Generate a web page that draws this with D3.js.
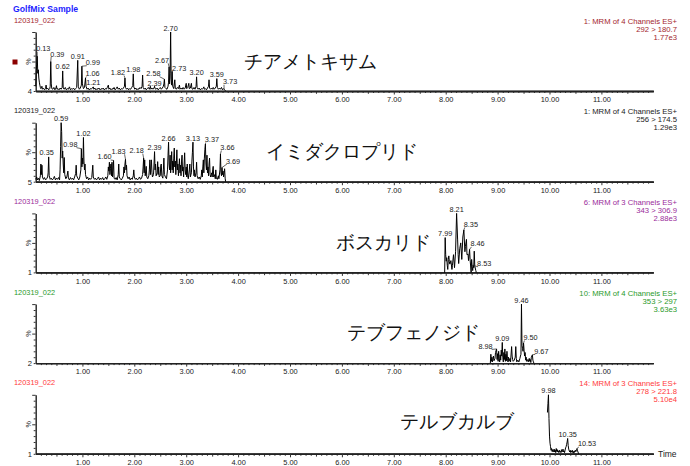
<!DOCTYPE html>
<html><head><meta charset="utf-8">
<script src="https://cdn.jsdelivr.net/npm/d3@7"></script>
<style>
body{margin:0;background:#fff}
svg{display:block}
text{font-family:"Liberation Sans",Arial,sans-serif}
</style>
</head><body>
<svg id="c" width="690" height="466"></svg>
<script>
// ---------------- DATA ----------------
const title = "GolfMix Sample";
const sampleId = "120319_022";
const timeTickLabels = ["1.00","2.00","3.00","4.00","5.00","6.00","7.00","8.00","9.00","10.00","11.00"];
const compounds = ["チアメトキサム","イミダクロプリド","ボスカリド","テブフェノジド","テルブカルブ"];
const channelInfo = [
  ["1: MRM of 4 Channels ES+","292 > 180.7","1.77e3"],
  ["1: MRM of 4 Channels ES+","256 > 174.5","1.29e3"],
  ["6: MRM of 3 Channels ES+","343 > 306.9","2.88e3"],
  ["10: MRM of 4 Channels ES+","353 > 297","3.63e3"],
  ["14: MRM of 3 Channels ES+","278 > 221.8","5.10e4"]
];
const baselineLabels = ["4","5","1","2","1"];

// [time (min), relative intensity (%)]
const series1 = [[0.10,8],[0.11,35],[0.12,45],[0.13,59],[0.14,30],[0.15,36],[0.16,22],[0.17,15],[0.18,10],[0.19,6],[0.20,4],[0.22,8],[0.23,3],[0.25,5],[0.27,2],[0.29,4],[0.30,10],[0.31,3],[0.33,5],[0.35,2],[0.37,4],[0.38,8],[0.39,50],[0.40,12],[0.41,4],[0.43,3],[0.45,6],[0.47,2],[0.49,5],[0.50,9],[0.51,3],[0.53,4],[0.55,2],[0.57,5],[0.59,3],[0.61,6],[0.62,34],[0.63,5],[0.65,3],[0.67,6],[0.69,2],[0.71,4],[0.73,3],[0.75,7],[0.77,2],[0.79,4],[0.81,3],[0.83,5],[0.85,2],[0.87,4],[0.89,6],[0.91,52],[0.92,8],[0.94,3],[0.96,5],[0.98,10],[0.99,42],[1.00,12],[1.02,4],[1.04,6],[1.06,22],[1.07,8],[1.09,3],[1.11,5],[1.13,2],[1.15,4],[1.17,3],[1.19,5],[1.21,7],[1.22,3],[1.24,5],[1.26,2],[1.28,4],[1.30,3],[1.32,5],[1.34,2],[1.36,4],[1.38,3],[1.40,5],[1.42,2],[1.44,4],[1.46,3],[1.48,6],[1.50,10],[1.51,3],[1.53,5],[1.55,2],[1.57,4],[1.59,3],[1.61,6],[1.63,2],[1.65,4],[1.67,7],[1.69,3],[1.71,5],[1.73,2],[1.75,4],[1.77,3],[1.79,5],[1.81,8],[1.82,22],[1.83,6],[1.85,3],[1.87,5],[1.89,2],[1.91,4],[1.93,3],[1.95,6],[1.97,9],[1.98,29],[1.99,7],[2.01,3],[2.03,5],[2.05,2],[2.07,4],[2.09,3],[2.11,6],[2.13,4],[2.15,8],[2.16,27],[2.17,6],[2.19,3],[2.21,5],[2.23,2],[2.25,4],[2.27,6],[2.29,3],[2.31,8],[2.32,3],[2.34,5],[2.36,3],[2.38,5],[2.39,8],[2.40,4],[2.42,3],[2.44,5],[2.46,2],[2.48,4],[2.50,6],[2.52,3],[2.54,5],[2.56,8],[2.57,12],[2.58,20],[2.59,6],[2.61,4],[2.63,3],[2.65,8],[2.66,15],[2.67,41],[2.68,12],[2.69,30],[2.70,100],[2.71,20],[2.72,10],[2.73,33],[2.74,8],[2.76,4],[2.78,19],[2.79,5],[2.81,3],[2.83,6],[2.85,4],[2.87,10],[2.88,3],[2.90,5],[2.92,3],[2.94,6],[2.96,3],[2.98,5],[3.00,13],[3.01,4],[3.03,6],[3.05,13],[3.06,4],[3.08,5],[3.10,13],[3.11,4],[3.13,3],[3.15,6],[3.17,3],[3.19,8],[3.20,24],[3.21,6],[3.23,3],[3.25,5],[3.27,2],[3.29,4],[3.31,3],[3.33,5],[3.34,7],[3.35,3],[3.37,4],[3.39,2],[3.41,5],[3.43,8],[3.44,19],[3.45,5],[3.47,3],[3.49,5],[3.51,3],[3.52,6],[3.54,3],[3.56,5],[3.58,8],[3.59,21],[3.60,6],[3.62,3],[3.64,5],[3.66,3],[3.68,6],[3.70,2],[3.72,4],[3.73,3],[3.75,1],[3.76,0]];
const peaks1 = [0.13,0.39,0.62,0.91,0.99,1.06,1.21,1.82,1.98,2.39,2.58,2.67,2.70,2.73,3.20,3.59,3.73];

const series2 = [[0.10,4],[0.12,8],[0.13,3],[0.15,6],[0.17,2],[0.19,10],[0.20,30],[0.21,12],[0.22,28],[0.23,8],[0.25,4],[0.27,7],[0.29,3],[0.31,5],[0.33,8],[0.34,15],[0.35,42],[0.36,10],[0.38,4],[0.40,6],[0.42,3],[0.44,5],[0.46,9],[0.48,3],[0.50,6],[0.52,4],[0.54,7],[0.56,3],[0.57,20],[0.58,60],[0.59,100],[0.60,85],[0.61,40],[0.62,52],[0.63,30],[0.64,15],[0.65,41],[0.66,12],[0.68,5],[0.70,8],[0.72,18],[0.73,6],[0.75,3],[0.77,7],[0.79,4],[0.81,6],[0.83,3],[0.85,8],[0.87,14],[0.88,28],[0.89,10],[0.91,6],[0.93,3],[0.95,8],[0.97,20],[0.98,56],[0.99,25],[1.00,40],[1.01,30],[1.02,75],[1.03,35],[1.04,20],[1.05,30],[1.06,12],[1.08,5],[1.10,8],[1.12,3],[1.14,6],[1.16,4],[1.18,7],[1.20,28],[1.21,8],[1.23,4],[1.25,6],[1.27,3],[1.29,5],[1.31,8],[1.33,3],[1.35,6],[1.37,4],[1.39,7],[1.41,3],[1.43,5],[1.45,8],[1.47,4],[1.49,10],[1.50,25],[1.51,18],[1.52,33],[1.53,12],[1.54,22],[1.55,30],[1.56,10],[1.57,33],[1.58,8],[1.59,20],[1.60,36],[1.61,6],[1.63,4],[1.65,7],[1.67,3],[1.69,12],[1.70,30],[1.71,8],[1.73,5],[1.75,3],[1.77,6],[1.79,10],[1.80,25],[1.81,15],[1.82,30],[1.83,38],[1.84,20],[1.85,28],[1.86,10],[1.88,5],[1.90,8],[1.92,3],[1.94,6],[1.96,4],[1.98,10],[1.99,20],[2.00,8],[2.02,4],[2.04,6],[2.06,3],[2.08,5],[2.10,8],[2.12,4],[2.14,6],[2.16,12],[2.17,25],[2.18,40],[2.19,15],[2.20,37],[2.21,10],[2.22,18],[2.23,26],[2.24,8],[2.26,5],[2.28,10],[2.29,20],[2.30,37],[2.31,12],[2.33,37],[2.34,15],[2.35,8],[2.37,12],[2.38,30],[2.39,51],[2.40,20],[2.41,30],[2.42,10],[2.44,15],[2.45,34],[2.46,12],[2.47,25],[2.48,8],[2.50,10],[2.51,28],[2.52,30],[2.53,10],[2.55,6],[2.56,20],[2.57,40],[2.58,12],[2.60,8],[2.62,5],[2.64,20],[2.65,45],[2.66,67],[2.67,30],[2.68,20],[2.69,45],[2.70,15],[2.71,30],[2.72,51],[2.73,20],[2.74,35],[2.75,15],[2.76,40],[2.77,57],[2.78,25],[2.79,35],[2.80,12],[2.81,30],[2.82,54],[2.83,20],[2.84,30],[2.85,10],[2.86,25],[2.87,39],[2.88,15],[2.89,28],[2.90,10],[2.91,35],[2.92,45],[2.93,18],[2.94,25],[2.95,8],[2.96,30],[2.97,49],[2.98,20],[2.99,12],[3.00,25],[3.01,8],[3.02,30],[3.03,10],[3.04,5],[3.06,20],[3.07,30],[3.08,8],[3.10,15],[3.11,35],[3.12,50],[3.13,67],[3.14,25],[3.15,10],[3.16,20],[3.17,8],[3.19,15],[3.20,33],[3.21,10],[3.23,5],[3.25,8],[3.27,4],[3.29,10],[3.30,20],[3.31,8],[3.32,25],[3.33,37],[3.34,15],[3.35,40],[3.36,55],[3.37,64],[3.38,30],[3.39,20],[3.40,45],[3.41,15],[3.42,25],[3.43,10],[3.44,30],[3.45,40],[3.46,12],[3.47,8],[3.49,15],[3.50,8],[3.51,20],[3.52,26],[3.53,8],[3.55,12],[3.56,5],[3.57,20],[3.58,6],[3.60,4],[3.62,10],[3.63,5],[3.65,20],[3.66,47],[3.67,15],[3.68,10],[3.69,24],[3.70,12],[3.71,18],[3.72,8],[3.73,15],[3.74,22],[3.75,6],[3.76,0]];
const peaks2 = [0.35,0.59,0.98,1.02,1.60,1.83,2.18,2.39,2.66,3.13,3.37,3.66,3.69];

const series3 = [[7.97,0],[7.98,0],[7.99,59],[8.00,30],[8.01,19],[8.02,25],[8.03,12],[8.04,5],[8.05,22],[8.06,28],[8.07,18],[8.08,14],[8.10,20],[8.12,5],[8.13,12],[8.15,30],[8.17,8],[8.19,35],[8.21,100],[8.23,55],[8.24,30],[8.25,15],[8.27,40],[8.29,50],[8.31,22],[8.33,60],[8.35,72],[8.37,35],[8.38,44],[8.40,56],[8.41,30],[8.43,31],[8.44,20],[8.46,39],[8.47,22],[8.49,0],[8.50,22],[8.51,10],[8.52,3],[8.53,12],[8.54,8],[8.55,36],[8.56,11],[8.58,3],[8.59,0]];
const peaks3 = [7.99,8.21,8.35,8.46,8.53];

const series4 = [[8.86,0],[8.87,15],[8.88,3],[8.89,10],[8.90,2],[8.92,12],[8.93,4],[8.95,8],[8.96,18],[8.98,24],[8.99,6],[9.00,16],[9.01,3],[9.02,20],[9.03,8],[9.04,2],[9.05,14],[9.06,5],[9.07,22],[9.08,12],[9.09,35],[9.10,10],[9.11,2],[9.12,18],[9.13,6],[9.14,24],[9.15,3],[9.16,15],[9.17,4],[9.18,20],[9.19,8],[9.20,2],[9.21,10],[9.22,3],[9.24,8],[9.25,2],[9.27,28],[9.28,12],[9.29,6],[9.30,3],[9.32,5],[9.34,10],[9.35,28],[9.36,8],[9.37,2],[9.39,5],[9.41,2],[9.43,8],[9.44,12],[9.45,15],[9.46,100],[9.47,30],[9.48,25],[9.49,20],[9.50,34],[9.51,22],[9.52,12],[9.53,18],[9.54,5],[9.55,10],[9.56,3],[9.58,6],[9.59,2],[9.61,8],[9.62,3],[9.63,6],[9.64,1],[9.65,10],[9.67,14],[9.68,5],[9.69,2],[9.70,0]];
const peaks4 = [8.98,9.09,9.46,9.50,9.67];

const series5 = [[9.96,70],[9.97,85],[9.98,100],[9.99,60],[10.00,30],[10.01,18],[10.02,12],[10.03,6],[10.04,9],[10.05,4],[10.06,7],[10.07,3],[10.08,6],[10.09,8],[10.10,3],[10.11,6],[10.12,2],[10.13,9],[10.14,4],[10.15,7],[10.16,3],[10.17,5],[10.18,2],[10.19,6],[10.20,3],[10.21,4],[10.22,2],[10.23,7],[10.24,3],[10.25,4],[10.26,8],[10.27,3],[10.28,5],[10.29,2],[10.30,6],[10.31,10],[10.32,12],[10.33,16],[10.34,20],[10.35,26],[10.36,14],[10.37,8],[10.38,5],[10.39,3],[10.40,6],[10.41,2],[10.42,5],[10.43,3],[10.44,6],[10.45,2],[10.46,4],[10.47,1],[10.48,5],[10.49,3],[10.50,6],[10.51,4],[10.52,7],[10.53,9],[10.54,5],[10.55,3],[10.56,0]];
const peaks5 = [9.98,10.35,10.53];

// ---------------- LAYOUT / STYLE ----------------
const allSeries = [series1,series2,series3,series4,series5];
const allPeaks = [peaks1,peaks2,peaks3,peaks4,peaks5];
const headerColors = ["#a3262e","#222222","#9a2c9a","#2a9a2a","#ff3a3a"];
const panelStep = 90.7, panelTop0 = 32, panelBase0 = 91;
const namePos = [[310,62],[342,152],[383,243],[413,333],[457,422]];
// label nudges [dx, dy] in px (baseline offset relative to apex - 3); unlisted labels sit right above apex
const nudges = [
  {0.13:[6,-2],0.39:[6.5,-2],0.99:[11,2],1.06:[7,1],1.82:[-7,0],2.39:[0,3],2.58:[-11,0],2.67:[-7,-1],2.73:[7,2],3.73:[6,-2]},
  {0.35:[-2,1.5],0.98:[-11,1.5],1.60:[-9,2],1.83:[-7,-2.5],2.18:[-7,-2],3.37:[6.5,1],3.66:[7,-1],3.69:[11,-1]},
  {8.35:[7,0],8.46:[8,0],8.53:[11,4]},
  {8.98:[-11,3],9.50:[7,0],9.67:[9,2]},
  {10.53:[10,1]}
];

const svg = d3.select("#c");
const x = d3.scaleLinear().domain([0.1, 12.0]).range([35.7, 653.3]);
const fmt = d3.format(".2f");

svg.append("text").attr("x",13).attr("y",12).attr("font-size",8.7).attr("font-weight","bold")
  .attr("fill","#1e1eff").text(title);

const majorT = timeTickLabels.map(Number);
const halfT = d3.range(0,12).map(i=>i+0.5);
const minorT = d3.range(2,120).map(i=>i/10).filter(t=>Math.abs(t*2-Math.round(t*2))>1e-6);

allSeries.forEach((data,i)=>{
  const off = i*panelStep;
  const top = panelTop0+off, base = panelBase0+off;
  const y = d3.scaleLinear().domain([0,100]).range([base, top]);
  const g = svg.append("g");
  const col = headerColors[i];

  // headers
  g.append("text").attr("x",14).attr("y",22.5+off).attr("font-size",7.4).attr("fill",col).text(sampleId);
  channelInfo[i].forEach((s,k)=>{
    g.append("text").attr("x",677).attr("y",23.5+off+k*8).attr("font-size",7.7)
      .attr("text-anchor","end").attr("fill",col).text(s);
  });

  // x axis: minor, half, major
  const ax = (vals,size,labels)=>{
    const a = d3.axisBottom(x).tickValues(vals).tickSize(size).tickSizeOuter(0);
    if(labels) a.tickFormat((d,j)=>timeTickLabels[j]).tickPadding(2.5); else a.tickFormat("");
    const ga = g.append("g").attr("transform",`translate(0,${base})`).call(a);
    ga.selectAll(".tick line").attr("stroke","#333").attr("stroke-width",1);
    ga.select(".domain").attr("stroke","#222").attr("stroke-width",1.4);
    ga.selectAll("text").attr("font-size",7.4).attr("fill","#222").attr("font-family","Liberation Sans, Arial, sans-serif");
    return ga;
  };
  ax(minorT,2,false);
  ax(halfT,2.8,false);
  ax(majorT,3.5,true);

  // y axis
  const ay = d3.axisLeft(y).tickValues(d3.range(0,101,10)).tickSize(2).tickSizeOuter(0).tickFormat("");
  const gy = g.append("g").attr("transform",`translate(${x(0.1)},0)`).call(ay);
  gy.select(".domain").attr("stroke","#222").attr("stroke-width",1.4);
  gy.selectAll(".tick line").attr("stroke","#333").attr("stroke-width",1)
    .attr("x2",d=> (d===50||d===100)?-3.5:-2);
  g.append("text").attr("x",32).attr("y",base+3).attr("font-size",7.6).attr("text-anchor","end")
    .attr("fill","#222").text(baselineLabels[i]);
  g.append("text").attr("transform",`translate(31,${(top+base)/2}) rotate(-90)`)
    .attr("font-size",7.2).attr("text-anchor","middle").attr("fill","#222").text("%");

  // trace
  const line = d3.line().x(d=>x(d[0])).y(d=>y(d[1]));
  g.append("path").datum(data).attr("d",line).attr("fill","none").attr("stroke","#000")
    .attr("stroke-width",1).attr("stroke-linejoin","miter");

  // peak labels
  allPeaks[i].forEach(p=>{
    let best = data[0];
    data.forEach(d=>{ if(Math.abs(d[0]-p)<Math.abs(best[0]-p)) best=d; });
    const px = x(p), py = y(best[1]);
    const nd = nudges[i][p];
    const lx = nd ? px+nd[0] : px;
    const ly = nd ? py-3+nd[1] : py-1.5;
    const t = g.append("text").attr("x",lx).attr("y",ly).attr("font-size",7.3)
      .attr("text-anchor","middle").attr("fill","#222").text(fmt(p));
    if(nd && Math.abs(nd[0])>3){
      const w = t.node().getComputedTextLength();
      const s = Math.sign(nd[0]);
      g.append("line").attr("x1",lx - s*(w/2-1)).attr("y1",ly+0.5)
        .attr("x2",px).attr("y2",py).attr("stroke","#222").attr("stroke-width",0.7);
    }
  });

  // compound name
  g.append("text").attr("x",namePos[i][0]).attr("y",namePos[i][1]).attr("dy","0.35em")
    .attr("font-size",18.5).attr("text-anchor","middle").attr("fill","#111")
    .attr("font-family","'Noto Sans CJK JP', sans-serif").text(compounds[i]);

  if(i===0){
    g.append("rect").attr("x",12.5).attr("y",59.5).attr("width",5).attr("height",5).attr("fill","#8b0000");
  }
  if(i===4){
    g.append("text").attr("x",658).attr("y",base+3).attr("font-size",8.5).attr("fill","#222").text("Time");
  }
});
</script>
</body></html>
